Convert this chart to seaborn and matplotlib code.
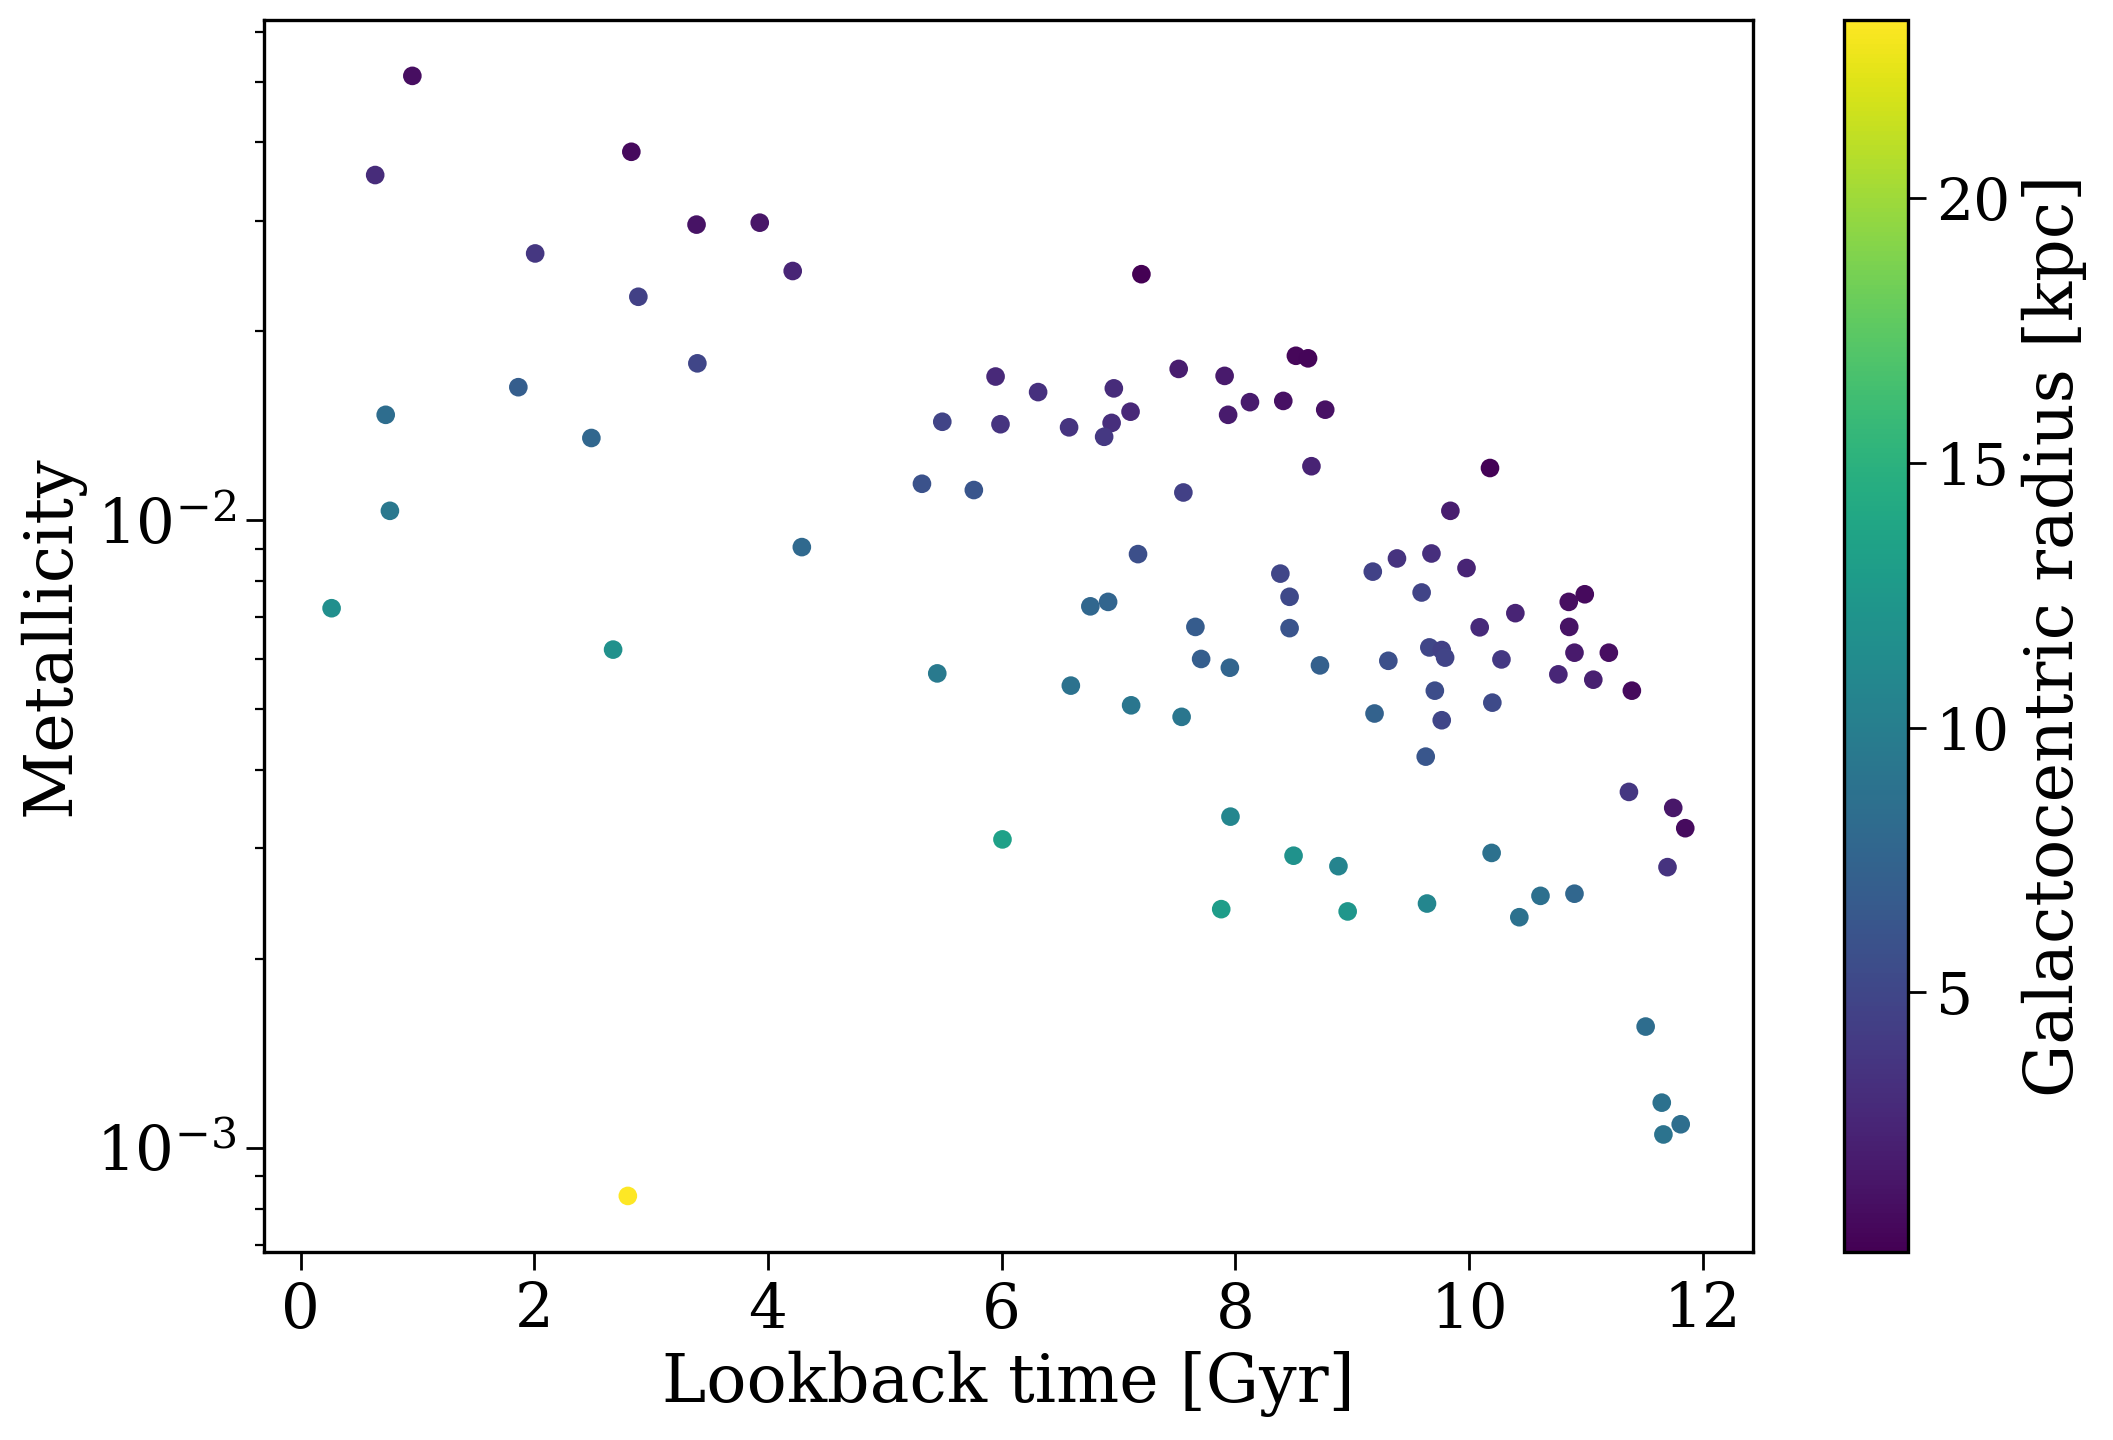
import numpy as np
import matplotlib
matplotlib.use('Agg')
import matplotlib.pyplot as plt
import seaborn as sns

# Values.
lookback_gyr = [
    0.957, 0.639, 2.831, 3.389, 3.930, 2.008, 4.212, 2.891, 3.396, 1.864,
    0.729, 2.489, 5.948, 5.492, 5.990, 5.318, 5.762, 0.765, 4.290, 0.266,
    2.675, 5.449, 2.801,
    7.196, 8.518, 8.622, 6.312, 6.960, 7.515, 7.908, 8.125, 8.410, 8.769,
    7.938, 7.103, 6.941, 6.877, 6.577, 8.651, 10.179, 7.555, 9.840, 7.167,
    9.678, 9.383, 9.176, 9.978, 8.385, 9.594, 10.853, 10.990, 8.464, 6.759,
    6.911, 10.396, 10.857, 10.091, 7.658, 8.464, 9.660, 9.766,
    9.795, 10.902, 11.196, 7.707, 7.953, 8.724, 9.309, 10.277, 10.764, 11.063,
    11.393, 9.707, 10.199, 9.766, 9.191, 7.540, 7.108, 6.592, 9.629, 11.368,
    11.747, 11.850, 7.958, 6.007, 8.498, 8.882, 10.193, 11.698, 10.611, 10.902,
    9.640, 7.879, 8.961, 10.430, 11.511, 11.649, 11.811, 11.663,
]
metallicity = [
    0.05105, 0.03548, 0.03864, 0.02958, 0.02979, 0.02661, 0.02495, 0.02270, 0.01778, 0.01629,
    0.01472, 0.01352, 0.01694, 0.01435, 0.01422, 0.01143, 0.01117, 0.01035, 0.00906, 0.00724,
    0.00622, 0.00570, 0.000838,
    0.02466, 0.01828, 0.01811, 0.01600, 0.01622, 0.01742, 0.01698, 0.01542, 0.01549, 0.01500,
    0.01472, 0.01489, 0.01429, 0.01358, 0.01406, 0.01219, 0.01211, 0.01107, 0.01035, 0.00883,
    0.00885, 0.00869, 0.00828, 0.00839, 0.00822, 0.00767, 0.00741, 0.00762, 0.00755, 0.00729,
    0.00741, 0.00711, 0.00676, 0.00675, 0.00676, 0.00673, 0.00627, 0.00621,
    0.00604, 0.00615, 0.00615, 0.00601, 0.00582, 0.00587, 0.00597, 0.00600, 0.00568, 0.00557,
    0.00535, 0.00535, 0.00512, 0.00480, 0.00492, 0.00486, 0.00507, 0.00545, 0.00420, 0.00369,
    0.00348, 0.00323, 0.00337, 0.00310, 0.00292, 0.00281, 0.00295, 0.00280, 0.00252, 0.00254,
    0.00245, 0.00240, 0.00238, 0.00233, 0.00156, 0.00118, 0.00109, 0.00105,
]
radius_kpc = [
    1.0, 3.0, 0.7, 1.2, 1.4, 3.8, 2.5, 4.6, 5.0, 7.0,
    8.3, 7.8, 2.8, 4.8, 3.6, 6.0, 6.2, 9.4, 8.0, 11.6,
    11.8, 9.6, 23.37,
    0.10, 0.5, 0.4, 3.3, 3.0, 2.0, 1.7, 1.8, 1.1, 1.1,
    1.8, 2.7, 3.1, 3.9, 3.6, 2.3, 0.2, 4.5, 2.0, 5.7,
    3.2, 3.5, 4.7, 2.4, 5.0, 4.8, 1.0, 0.7, 5.2, 7.8,
    7.6, 2.4, 1.2, 2.9, 6.8, 6.1, 5.0, 4.5,
    4.8, 1.7, 1.0, 7.0, 7.6, 7.1, 5.8, 4.0, 2.6, 2.1,
    0.7, 5.5, 5.3, 5.0, 7.3, 9.2, 9.2, 8.9, 6.3, 3.8,
    1.5, 0.8, 10.8, 13.3, 11.9, 10.6, 8.7, 3.5, 8.6, 7.8,
    10.8, 13.0, 12.3, 8.8, 8.3, 8.8, 8.4, 9.0,
]

plt.rcParams['font.family'] = ['DejaVu Serif']
plt.rcParams['mathtext.fontset'] = 'dejavuserif'
plt.rcParams['axes.linewidth'] = 1.2

fig = plt.figure(figsize=(10.565, 7.2), dpi=200)
ax = fig.add_axes([0.1249, 0.1306, 0.7047, 0.8556])
cax = fig.add_axes([0.8727, 0.1306, 0.0305, 0.8556])

norm = matplotlib.colors.Normalize(vmin=min(radius_kpc), vmax=max(radius_kpc))
sns.scatterplot(x=lookback_gyr, y=metallicity, hue=radius_kpc, palette='viridis',
                hue_norm=norm, s=45, linewidth=0, legend=False, ax=ax)
ax.set_yscale('log')
ax.set_xticks([0, 2, 4, 6, 8, 10, 12])

ax.set_xlabel('Lookback time [Gyr]', fontsize=24)
ax.set_ylabel('Metallicity', fontsize=24)
ax.tick_params(which='major', labelsize=22, length=6.5, width=1.0)
ax.tick_params(which='minor', length=3.3, width=0.8)

sm = matplotlib.cm.ScalarMappable(norm=norm, cmap='viridis')
cbar = fig.colorbar(sm, cax=cax)
cbar.set_label('Galactocentric radius [kpc]', fontsize=24)
cbar.ax.tick_params(labelsize=21, length=6.5, width=1.0)
cbar.outline.set_linewidth(1.2)

fig.savefig('out.png', dpi=200)
